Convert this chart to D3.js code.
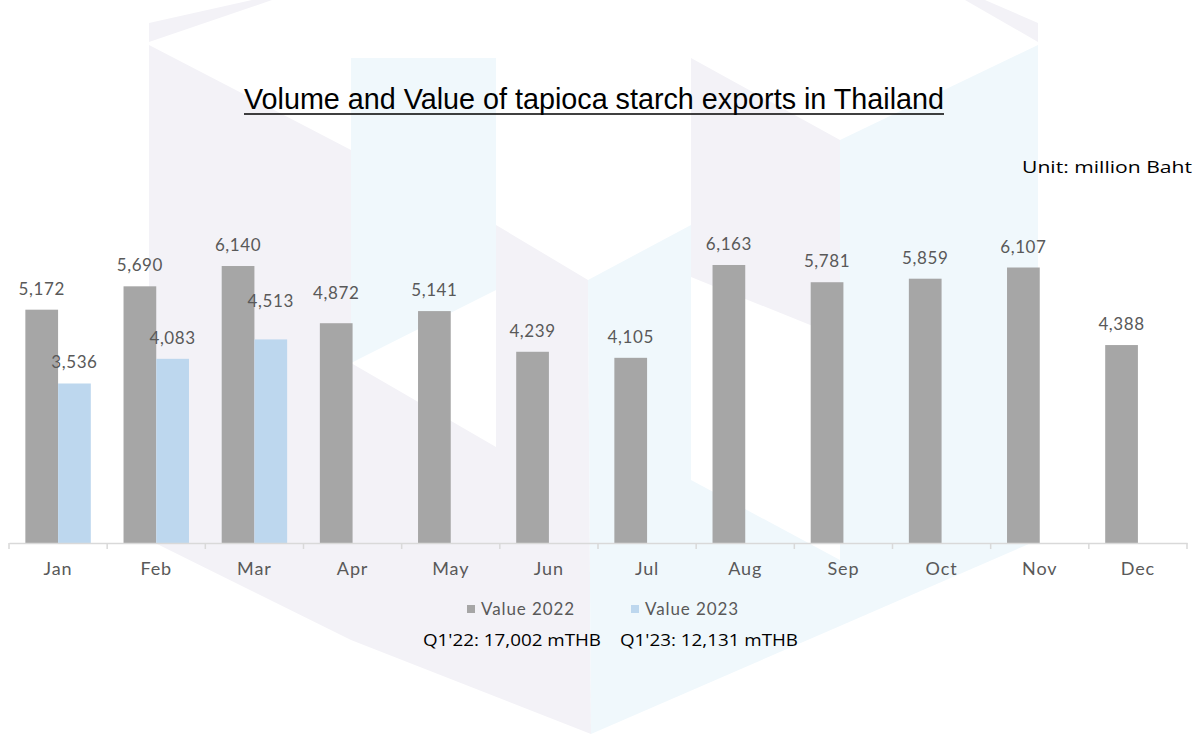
<!DOCTYPE html>
<html>
<head>
<meta charset="utf-8">
<script src="https://cdn.jsdelivr.net/npm/d3@7"></script>
<style>
  html, body { margin: 0; padding: 0; background: #ffffff; }
  svg { display: block; }
</style>
</head>
<body>
<svg id="chart" width="1197" height="734"></svg>
<script>
// ---- data ----
const months = ["Jan","Feb","Mar","Apr","May","Jun","Jul","Aug","Sep","Oct","Nov","Dec"];
const seriesNames = ["Value 2022", "Value 2023"];
const value2022 = [5172, 5690, 6140, 4872, 5141, 4239, 4105, 6163, 5781, 5859, 6107, 4388];
const value2023 = [3536, 4083, 4513, null, null, null, null, null, null, null, null, null];
const titleText = "Volume and Value of tapioca starch exports in Thailand";
const unitText = "Unit: million Baht";
const summaryTexts = ["Q1'22: 17,002 mTHB", "Q1'23: 12,131 mTHB"];
// extra lift (px) Excel applied to a few overlapping data labels
const labelLift2022 = [0,0,0,9,0,0,0,0,0,0,0,0];
const labelLift2023 = [0,0,17,0,0,0,0,0,0,0,0,0];

const colors = ["#a6a6a6", "#bdd7ee"];
const textGray = "#595959";
const labelFont = "Lato, 'DejaVu Sans', sans-serif";

const svg = d3.select("#chart");

// ---- faint watermark logo in the background ----
const wmGray = "#f3f2f7", wmBlue = "#f0f8fc";
const wm = [
  {c: wmGray, p: [[149,23],[252,0],[272,0],[149,42]]},
  {c: wmGray, p: [[149,45],[351,150],[351,640],[149,540]]},
  {c: wmGray, p: [[351,363],[496,447],[496,225],[588,280],[591,734],[351,640]]},
  {c: wmGray, p: [[1038,23],[985,0],[965,0],[1038,42]]},
  {c: wmGray, p: [[691,58],[840,140],[840,337],[691,277]]},
  {c: wmBlue, p: [[351,58],[496,58],[496,290],[351,363]]},
  {c: wmBlue, p: [[588,280],[691,225],[691,480],[840,560],[840,626],[591,734]]},
  {c: wmBlue, p: [[840,140],[1038,45],[1038,540],[840,626]]}
];
svg.append("g").selectAll("polygon").data(wm).join("polygon")
  .attr("points", d => d.p.map(q => q.join(",")).join(" "))
  .attr("fill", d => d.c);

// ---- scales ----
const axisY = 543;
const x0 = d3.scaleBand().domain(months).range([9, 1187]).paddingInner(0).paddingOuter(0);
const x1 = d3.scaleBand().domain(seriesNames).range([0, x0.bandwidth()]).paddingInner(0).paddingOuter(0.5);
const y = d3.scaleLinear().domain([0, 7000]).range([axisY, axisY - 7000 * 0.04511]);

const rows = months.map((m, i) => ({m, i, vals: [value2022[i], value2023[i]]}));

// ---- bars ----
const g = svg.append("g");
rows.forEach(r => {
  r.vals.forEach((v, s) => {
    if (v == null) return;
    g.append("rect")
      .attr("x", x0(r.m) + x1(seriesNames[s]))
      .attr("y", y(v))
      .attr("width", x1.bandwidth())
      .attr("height", y(0) - y(v))
      .attr("fill", colors[s]);
  });
});

// ---- data labels ----
const fmt = d3.format(",");
rows.forEach(r => {
  r.vals.forEach((v, s) => {
    if (v == null) return;
    const lift = s === 0 ? labelLift2022[r.i] : labelLift2023[r.i];
    g.append("text")
      .attr("x", x0(r.m) + x1(seriesNames[s]) + x1.bandwidth() / 2)
      .attr("y", y(v) - 15 - lift)
      .attr("text-anchor", "middle")
      .attr("font-family", labelFont)
      .attr("font-size", 17)
      .attr("letter-spacing", 0.6)
      .attr("fill", textGray)
      .text(fmt(v));
  });
});

// ---- x axis ----
const xAxis = d3.axisBottom(x0).tickSize(0).tickPadding(0);
const ax = svg.append("g").attr("transform", `translate(0,${axisY})`).call(xAxis);
ax.select(".domain").attr("stroke", "#d9d9d9").attr("stroke-width", 1.5);
ax.selectAll(".tick text")
  .attr("y", 32)
  .attr("dy", 0)
  .attr("font-family", labelFont)
  .attr("font-size", 18)
  .attr("letter-spacing", 0.9)
  .attr("fill", textGray);
const bounds = months.map(m => x0(m)).concat([x0.range()[1]]);
ax.selectAll("line.bound").data(bounds).join("line")
  .attr("class", "bound")
  .attr("x1", d => d).attr("x2", d => d)
  .attr("y1", 0).attr("y2", 6)
  .attr("stroke", "#d9d9d9").attr("stroke-width", 1.5);

// ---- title ----
svg.append("text")
  .attr("x", 594).attr("y", 109)
  .attr("text-anchor", "middle")
  .attr("font-family", "'Liberation Sans Narrow', 'Liberation Sans', Arial, sans-serif")
  .attr("font-size", 30)
  .attr("fill", "#000")
  .attr("textLength", 700)
  .attr("lengthAdjust", "spacingAndGlyphs")
  .text(titleText);
svg.append("line").attr("x1", 244).attr("x2", 944).attr("y1", 114).attr("y2", 114)
  .attr("stroke", "#000").attr("stroke-width", 1.5);

// ---- unit ----
svg.append("text")
  .attr("x", 1192).attr("y", 173)
  .attr("text-anchor", "end")
  .attr("font-family", "'Open Sans', 'Noto Sans', sans-serif")
  .attr("font-size", 17)
  .attr("fill", "#000")
  .attr("textLength", 170)
  .attr("lengthAdjust", "spacingAndGlyphs")
  .text(unitText);

// ---- legend ----
const legendX = [467, 631];
const lg = svg.append("g");
seriesNames.forEach((n, s) => {
  lg.append("rect").attr("x", legendX[s]).attr("y", 605).attr("width", 8).attr("height", 8).attr("fill", colors[s]);
  lg.append("text").attr("x", legendX[s] + 14).attr("y", 615)
    .attr("font-family", labelFont)
    .attr("font-size", 17)
    .attr("letter-spacing", 0.9)
    .attr("fill", textGray)
    .text(n);
});

// ---- Q1 summary ----
const sumX = [423, 620];
summaryTexts.forEach((t, i) => {
  svg.append("text").attr("x", sumX[i]).attr("y", 646)
    .attr("font-family", "'Open Sans', 'Noto Sans', sans-serif")
    .attr("font-size", 16)
    .attr("fill", "#000")
    .attr("textLength", 178)
    .attr("lengthAdjust", "spacingAndGlyphs")
    .text(t);
});
</script>
</body>
</html>
